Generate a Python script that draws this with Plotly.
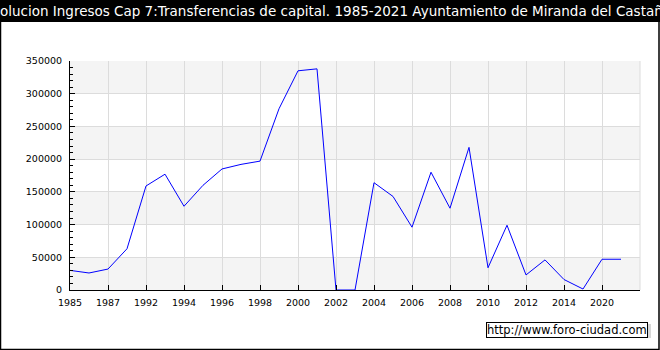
import plotly.graph_objects as go

years = ["1985", "1986", "1987", "1991", "1992", "1993", "1994", "1995", "1996", "1997",
         "1998", "1999", "2000", "2001", "2002", "2003", "2004", "2005", "2006", "2007",
         "2008", "2009", "2010", "2011", "2012", "2013", "2014", "2015", "2020", "2021"]
values = [30000, 26000, 32000, 63000, 159000, 177000, 128000, 160000, 185000, 192000,
          197000, 277000, 335000, 338000, 0, 0, 164000, 143000, 96000, 180000,
          125000, 218000, 34000, 99000, 23000, 46000, 16000, 1500, 47000, 47000]
tick_years = years[::2]
y_ticks = [0, 50000, 100000, 150000, 200000, 250000, 300000, 350000]

title_text = "Evolucion Ingresos Cap 7:Transferencias de capital. 1985-2021 Ayuntamiento de Miranda del Castañar"
watermark = "http://www.foro-ciudad.com"

W, H = 660, 350
ML, MR, MT, MB = 70, 20, 61, 60
pw = W - ML - MR
ph = H - MT - MB


def px_x(px):
    return (px - ML) / pw


def px_y(py):
    return 1 - (py - MT) / ph


fig = go.Figure()
fig.add_trace(go.Scatter(x=years, y=values, mode="lines",
                         line=dict(color="#0000ff", width=1), hoverinfo="x+y"))

shapes = []
# alternating background bands
for i in range(len(y_ticks) - 1):
    if i % 2 == 0:
        shapes.append(dict(type="rect", xref="x domain", yref="y", x0=0, x1=1,
                           y0=y_ticks[i], y1=y_ticks[i + 1], fillcolor="#f4f4f4",
                           line=dict(width=0), layer="below"))
# right edge gridline
shapes.append(dict(type="line", xref="x domain", yref="y domain", x0=1, x1=1, y0=0, y1=1,
                   line=dict(color="#dcdcdc", width=1), layer="below"))
# title bar
shapes.append(dict(type="rect", xref="paper", yref="paper",
                   x0=px_x(0), x1=px_x(W), y0=px_y(22), y1=px_y(0),
                   fillcolor="black", line=dict(width=0), layer="below"))
# outer frame
shapes.append(dict(type="rect", xref="paper", yref="paper",
                   x0=px_x(0.5), x1=px_x(W - 1), y0=px_y(H - 0.5), y1=px_y(0),
                   fillcolor="rgba(0,0,0,0)", line=dict(color="black", width=1.5), layer="above"))
# watermark shadow
shapes.append(dict(type="rect", xref="paper", yref="paper",
                   x0=px_x(486), x1=px_x(651), y0=px_y(338), y1=px_y(324),
                   fillcolor="#d8d8d8", line=dict(width=0), layer="above"))

fig.update_layout(
    width=W, height=H,
    margin=dict(l=ML, r=MR, t=MT, b=MB),
    paper_bgcolor="white", plot_bgcolor="white",
    showlegend=False,
    font=dict(family="DejaVu Sans", size=9.5, color="black"),
    title=dict(text=title_text, x=0.5, xref="container", xanchor="center",
               y=1 - 11 / H, yref="container", yanchor="middle",
               font=dict(family="DejaVu Sans", size=13.5, color="white")),
    shapes=shapes,
    xaxis=dict(type="category", range=[0, len(years)], tickmode="array",
               tickvals=tick_years, ticktext=tick_years,
               showgrid=True, gridcolor="#dcdcdc", gridwidth=1,
               showline=True, linecolor="black", linewidth=1,
               ticks="inside", ticklen=5, tickcolor="black", layer="above traces",
               ticklabelstandoff=4, zeroline=False, fixedrange=True),
    yaxis=dict(range=[0, 350000], tickmode="array", tickvals=y_ticks,
               ticktext=[str(v) for v in y_ticks],
               showgrid=True, gridcolor="#dcdcdc", gridwidth=1,
               showline=True, linecolor="black", linewidth=1,
               ticks="inside", ticklen=5, tickcolor="black", layer="above traces",
               minor=dict(dtick=10000, ticks="inside", ticklen=3, tickcolor="black", showgrid=False),
               ticklabelstandoff=5, zeroline=False, fixedrange=True),
    annotations=[
        dict(text=watermark, xref="paper", yref="paper", x=px_x(648), y=px_y(321.5),
             xanchor="right", yanchor="top", showarrow=False,
             font=dict(family="DejaVu Sans", size=11.5, color="black"),
             bgcolor="white", bordercolor="black", borderwidth=1, borderpad=0),
    ],
)

fig.write_html("out.html")
